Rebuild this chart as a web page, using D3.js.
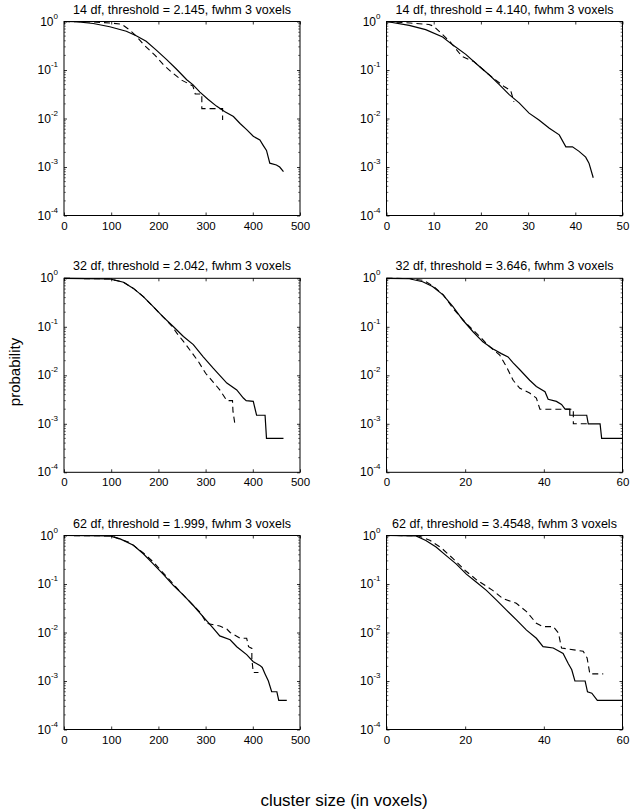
<!DOCTYPE html>
<html>
<head>
<meta charset="utf-8">
<script src="https://cdn.jsdelivr.net/npm/d3@7"></script>
<style>
  html, body { margin: 0; padding: 0; background: #fff; }
  svg { display: block; font-family: "Liberation Sans", Arial, Helvetica, sans-serif; }
</style>
</head>
<body>
<svg id="chart" width="630" height="812"></svg>
<script>
// ---------- data ----------
const titles = [
  "14 df, threshold = 2.145, fwhm 3 voxels",
  "14 df, threshold = 4.140, fwhm 3 voxels",
  "32 df, threshold = 2.042, fwhm 3 voxels",
  "32 df, threshold = 3.646, fwhm 3 voxels",
  "62 df, threshold = 1.999, fwhm 3 voxels",
  "62 df, threshold = 3.4548, fwhm 3 voxels"
];
const xDomains = [[0, 500], [0, 50], [0, 500], [0, 60], [0, 500], [0, 60]];
const xTickValues = [
  [0, 100, 200, 300, 400, 500],
  [0, 10, 20, 30, 40, 50],
  [0, 100, 200, 300, 400, 500],
  [0, 20, 40, 60],
  [0, 100, 200, 300, 400, 500],
  [0, 20, 40, 60]
];
const yExponents = [0, -1, -2, -3, -4];
const yLabel = "probability";
const xLabel = "cluster size (in voxels)";

// solid = theoretical, dashed = simulated; [cluster size, probability]
const p1Solid = [[0,1],[26,0.99],[62,0.91],[97,0.78],[132,0.63],[153,0.51],[174,0.39],[195,0.26],[217,0.166],[238,0.105],[260,0.063],[273,0.05],[288,0.035],[305,0.025],[323,0.018],[340,0.014],[359,0.011],[373,0.0079],[387,0.0059],[401,0.0043],[415,0.0036],[422,0.0028],[429,0.0022],[436,0.0012],[450,0.0011],[457,0.001],[465,0.0008]];
const p1Dashed = [[0,1],[60,0.98],[100,0.93],[122,0.88],[140,0.66],[153,0.5],[168,0.34],[193,0.2],[210,0.13],[228,0.09],[249,0.062],[273,0.047],[278,0.032],[292,0.032],[292,0.016],[336,0.016],[336,0.0093]];

const p2Solid = [[0,1],[4.8,0.83],[8.3,0.68],[11.9,0.48],[14,0.33],[16.8,0.21],[18.9,0.138],[21.8,0.079],[23.9,0.05],[26,0.031],[28.1,0.021],[30.2,0.0129],[32.3,0.0093],[34.5,0.0063],[36.6,0.0046],[38,0.0026],[39.4,0.0026],[40.8,0.0021],[42.2,0.0016],[42.9,0.0012],[43.8,0.0006]];
const p2Dashed = [[0,1],[5,0.93],[9,0.87],[10,0.8],[13.5,0.38],[16,0.19],[18.5,0.15],[21.5,0.083],[25,0.045],[26.3,0.038],[27,0.022]];

const p3Solid = [[0,1],[97,0.97],[126,0.83],[147,0.62],[168,0.42],[189,0.26],[210,0.16],[232,0.1],[253,0.063],[274,0.043],[295,0.024],[316,0.014],[330,0.01],[345,0.0069],[366,0.005],[380,0.0034],[386,0.003],[401,0.0029],[408,0.0015],[426,0.0015],[429,0.0005],[465,0.0005]];
const p3Dashed = [[0,1],[97,0.97],[126,0.83],[147,0.62],[168,0.42],[189,0.26],[210,0.16],[228,0.105],[239,0.074],[253,0.05],[268,0.032],[285,0.019],[300,0.011],[317,0.0071],[330,0.005],[345,0.003],[357,0.003],[358,0.0018],[362,0.001]];

const p4Solid = [[0,1],[5.8,0.98],[9.2,0.85],[11.7,0.68],[14.3,0.46],[16.9,0.26],[19.4,0.138],[22,0.079],[24.5,0.049],[27.1,0.035],[29.2,0.028],[30.9,0.024],[32.2,0.018],[33.9,0.013],[36.4,0.0079],[38.1,0.0059],[40.3,0.0046],[41.1,0.0032],[43.2,0.0029],[44.5,0.0025],[45.4,0.002],[46.6,0.002],[46.6,0.0015],[50.9,0.0015],[51.3,0.001],[54.3,0.001],[54.7,0.0005],[60,0.0005]];
const p4Dashed = [[0,1],[6,0.99],[9.5,0.9],[12,0.68],[14.5,0.45],[16.9,0.24],[20.3,0.117],[23.7,0.063],[26.2,0.039],[28.8,0.026],[30.5,0.015],[32.2,0.0079],[33.9,0.0054],[36.4,0.0043],[38.1,0.0034],[39,0.002],[47.5,0.002],[47.5,0.001],[51,0.001]];

const p5Solid = [[0,1],[97,0.98],[119,0.85],[147,0.63],[168,0.42],[189,0.26],[210,0.16],[232,0.093],[253,0.059],[274,0.036],[295,0.021],[316,0.0123],[330,0.0085],[352,0.0071],[366,0.0051],[387,0.0035],[401,0.0025],[415,0.0021],[420,0.0019],[426,0.0014],[433,0.001],[440,0.0006],[451,0.0006],[455,0.0004],[472,0.0004]];
const p5Dashed = [[0,1],[100,0.98],[140,0.71],[170,0.42],[190,0.28],[210,0.17],[250,0.063],[290,0.025],[302,0.0155],[330,0.0136],[345,0.0118],[352,0.01],[365,0.0085],[373,0.0076],[387,0.0076],[391,0.0051],[398,0.0047],[398,0.0028],[401,0.0015],[412,0.0015]];

const p6Solid = [[0,1],[7.5,0.98],[10,0.79],[12.6,0.58],[15.1,0.39],[17.7,0.26],[20.3,0.16],[22.8,0.11],[25.4,0.074],[27.9,0.047],[30.5,0.029],[33.1,0.018],[35.6,0.0112],[38.1,0.0076],[39.8,0.0051],[42.4,0.0048],[44.9,0.0037],[46.2,0.0023],[47.1,0.0017],[47.9,0.001],[50.5,0.001],[51.1,0.0006],[52.2,0.00056],[53.6,0.0004],[60,0.0004]];
const p6Dashed = [[0,1],[8,0.99],[11,0.8],[14,0.55],[17,0.33],[20,0.19],[23,0.12],[27,0.074],[29.6,0.05],[33,0.04],[35.6,0.027],[38.1,0.0155],[39.8,0.0132],[42.4,0.0132],[43.7,0.0098],[44.5,0.0048],[50,0.0041],[51,0.003],[51.7,0.0014],[55.1,0.0014]];

const solidSeries = [p1Solid, p2Solid, p3Solid, p4Solid, p5Solid, p6Solid];
const dashedSeries = [p1Dashed, p2Dashed, p3Dashed, p4Dashed, p5Dashed, p6Dashed];

// ---------- layout ----------
const colLeft = [64, 386.5];
const rowTop = [21.5, 278.3, 535.5];
const panelW = 236, panelH = 194;

const svg = d3.select("#chart");

titles.forEach((title, i) => {
  const col = i % 2, row = Math.floor(i / 2);
  const g = svg.append("g").attr("transform", `translate(${colLeft[col]},${rowTop[row]})`);
  const x = d3.scaleLinear().domain(xDomains[i]).range([0, panelW]);
  const y = d3.scaleLog().domain([1e-4, 1]).range([panelH, 0]);

  // minor log ticks (left & right, inward)
  const minor = [];
  for (let e = -4; e < 0; e++) for (let m = 2; m <= 9; m++) minor.push(m * Math.pow(10, e));
  g.append("g").selectAll("line.minl").data(minor).join("line")
    .attr("x1", 0).attr("x2", 1.8).attr("y1", d => y(d)).attr("y2", d => y(d))
    .attr("stroke", "#000").attr("stroke-width", 0.6);
  g.append("g").selectAll("line.minr").data(minor).join("line")
    .attr("x1", panelW).attr("x2", panelW - 1.8).attr("y1", d => y(d)).attr("y2", d => y(d))
    .attr("stroke", "#000").attr("stroke-width", 0.6);

  const yVals = yExponents.map(e => Math.pow(10, e));
  // major ticks via axes (inward)
  const xb = g.append("g").attr("transform", `translate(0,${panelH})`)
    .call(d3.axisBottom(x).tickValues(xTickValues[i]).tickSizeInner(-3).tickSizeOuter(0).tickPadding(6));
  const xt = g.append("g")
    .call(d3.axisTop(x).tickValues(xTickValues[i]).tickSizeInner(-3).tickSizeOuter(0).tickFormat(""));
  const yl = g.append("g")
    .call(d3.axisLeft(y).tickValues(yVals).tickSizeInner(-3).tickSizeOuter(0).tickFormat(""));
  const yr = g.append("g").attr("transform", `translate(${panelW},0)`)
    .call(d3.axisRight(y).tickValues(yVals).tickSizeInner(-3).tickSizeOuter(0).tickFormat(""));
  [xb, xt, yl, yr].forEach(a => { a.select(".domain").remove(); a.selectAll("line").attr("stroke", "#000").attr("stroke-width", 0.8); });

  xb.selectAll("text").attr("font-size", 11.5).attr("fill", "#000")
    .attr("font-family", "Liberation Sans, Arial, sans-serif").attr("dy", "0.71em");

  // y tick labels 10^k
  const ylab = g.append("g").selectAll("text").data(yExponents).join("text")
    .attr("x", -6).attr("y", d => y(Math.pow(10, d)) + 4)
    .attr("text-anchor", "end").attr("font-size", 12).attr("fill", "#000");
  ylab.append("tspan").text("10");
  ylab.append("tspan").attr("dy", -7).attr("font-size", 8).text(d => d === 0 ? "0" : "-" + Math.abs(d));

  // frame
  g.append("rect").attr("x", 0).attr("y", 0).attr("width", panelW).attr("height", panelH)
    .attr("fill", "none").attr("stroke", "#000").attr("stroke-width", 1);

  const line = d3.line().x(d => x(d[0])).y(d => y(d[1]));
  g.append("path").datum(dashedSeries[i]).attr("d", line)
    .attr("fill", "none").attr("stroke", "#000").attr("stroke-width", 1.1)
    .attr("stroke-dasharray", "6,4");
  g.append("path").datum(solidSeries[i]).attr("d", line)
    .attr("fill", "none").attr("stroke", "#000").attr("stroke-width", 1.2);

  g.append("text").attr("x", panelW / 2).attr("y", -8).attr("text-anchor", "middle")
    .attr("font-size", 12.5).attr("fill", "#000").text(title);
});

svg.append("text").attr("transform", "translate(20,372) rotate(-90)")
  .attr("text-anchor", "middle").attr("font-size", 15).attr("fill", "#000").text(yLabel);
svg.append("text").attr("x", 344).attr("y", 806).attr("text-anchor", "middle")
  .attr("font-size", 17).attr("fill", "#000").text(xLabel);
</script>
</body>
</html>
